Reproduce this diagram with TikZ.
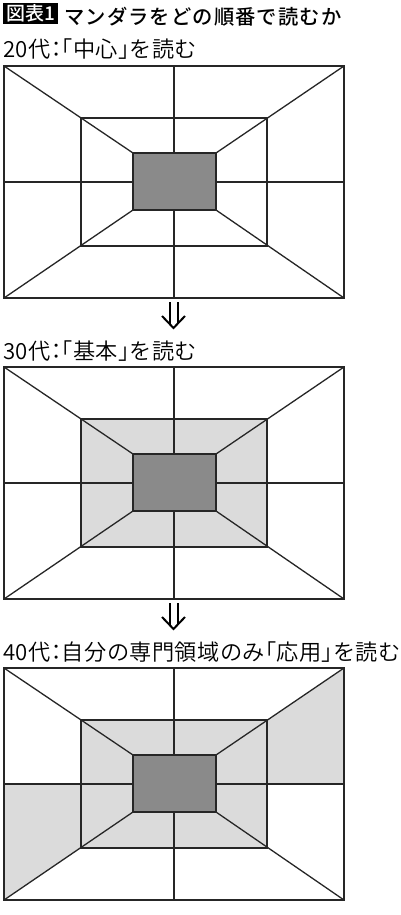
\documentclass[tikz,border=0pt]{standalone}
\usepackage{fontspec}
\setmainfont[LetterSpace=2]{Noto Sans CJK JP DemiLight}
\newfontfamily\titlefont[LetterSpace=5.5]{Noto Sans CJK JP Medium}
\newfontfamily\tagfont{Noto Sans CJK JP Medium}
\usetikzlibrary{positioning}
\definecolor{darkfill}{gray}{0.54}
\definecolor{lightfill}{gray}{0.86}
\definecolor{gridline}{gray}{0.15}
\newcommand{\lbr}{\kern-.5em「}
\newcommand{\rbr}{」\kern-.5em}
\newcommand{\sep}{\kern-.25em：\kern-.25em}

\tikzset{
  grid/.style={draw=gridline, line width=1.3pt},
  inner fill/.style={},
  wing fill/.style={},
  mandala/.pic={
    \coordinate (-otl) at (0,0);   \coordinate (-otr) at (340,0);
    \coordinate (-obr) at (340,232); \coordinate (-obl) at (0,232);
    \coordinate (-itl) at (77,52);  \coordinate (-itr) at (263,52);
    \coordinate (-ibr) at (263,180); \coordinate (-ibl) at (77,180);
    \coordinate (-ctl) at (129,87); \coordinate (-ctr) at (212,87);
    \coordinate (-cbr) at (212,144); \coordinate (-cbl) at (129,144);
    \coordinate (-ot) at (170,0);   \coordinate (-ob) at (170,232);
    \coordinate (-ol) at (0,116);   \coordinate (-or) at (340,116);
    \coordinate (-ct) at (170,87);  \coordinate (-cb) at (170,144);
    \coordinate (-cl) at (129,116); \coordinate (-cr) at (212,116);
    \coordinate (-il) at (77,116);  \coordinate (-ir) at (263,116);
    \path[inner fill] (-itl) rectangle (-ibr);
    \path[wing fill] (-itr) -- (-otr) -- (-or) -- (-ir) -- cycle
                     (-ol) -- (-obl) -- (-ibl) -- (-il) -- cycle;
    \draw[grid] (-otl) rectangle (-obr);
    \draw[grid] (-itl) rectangle (-ibr);
    \draw[grid] (-otl) -- (-ctl) (-otr) -- (-ctr) (-obr) -- (-cbr) (-obl) -- (-cbl);
    \draw[grid] (-ot) -- (-ct) (-cb) -- (-ob) (-ol) -- (-cl) (-cr) -- (-or);
    \draw[grid, fill=darkfill] (-ctl) rectangle (-cbr);
  },
  stepdown/.style={draw=black, line width=2pt},
  label/.style={anchor=base west, inner sep=0pt, font=\fontsize{22.2}{22}\selectfont}
}

\begin{document}
\begin{tikzpicture}[x=1pt, y=-1pt]
  \useasboundingbox[fill=white] (0,0) rectangle (400,915);

  \node[fill=black, text=white, inner sep=0pt, minimum width=55pt, minimum height=21pt,
        anchor=north west, font=\tagfont\fontsize{19}{19}\selectfont] (tag) at (3,3) {図表1};
  \node[anchor=base west, inner sep=0pt, font=\titlefont\fontsize{20.3}{21}\selectfont]
        (title) at (64,25) {マンダラをどの順番で読むか};

  \node[label] (age20) at (3,58) {20代\sep\lbr 中心\rbr を読む};
  \pic (m1) at (4,66) {mandala};

  \node[label] (age30) at (3,359) {30代\sep\lbr 基本\rbr を読む};
  \pic[inner fill/.style={fill=lightfill}] (m2) at (4,367) {mandala};

  \node[label] (age40) at (3,660) {40代\sep 自分の専門領域のみ\lbr 応用\rbr を読む};
  \pic[inner fill/.style={fill=lightfill}, wing fill/.style={fill=lightfill}] (m3) at (4,668) {mandala};

  \foreach \t/\i in {302/1, 603/2} {
    \coordinate (a\i l) at (169.5,\t); \coordinate (a\i r) at (177.5,\t);
    \coordinate (a\i tip) at (173.5,\t+26);
    \draw[stepdown] (a\i l) -- ++(0,22) (a\i r) -- ++(0,22);
    \draw[stepdown] ([xshift=-11.5pt,yshift=12pt]a\i tip) -- (a\i tip) -- ([xshift=11.5pt,yshift=12pt]a\i tip);
  }
\end{tikzpicture}
\end{document}
